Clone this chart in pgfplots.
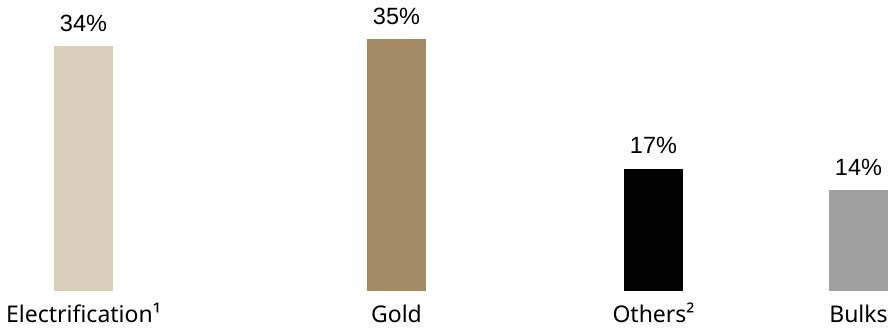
\documentclass[border=0pt]{standalone}
\usepackage{pgfplots}
\pgfplotsset{compat=1.18}
\usepackage{fontspec}
\setmainfont{Noto Sans}
\newfontfamily\valfont{Liberation Sans}
\definecolor{cElec}{RGB}{217,208,188}
\definecolor{cGold}{RGB}{161,138,100}
\definecolor{cOther}{RGB}{0,0,0}
\definecolor{cBulk}{RGB}{160,160,160}
\begin{document}
\begin{tikzpicture}
\begin{axis}[
  at={(0,38bp)}, anchor=south west,
  scale only axis, width=893bp, height=291bp,
  xmin=0, xmax=893, ymin=0, ymax=40.4167,
  axis line style={draw=none},
  ytick=\empty,
  xtick={83.5,396.5,653.5,858.5},
  xticklabels={Electrification¹,Gold,Others²,Bulks},
  major tick length=0pt,
  xticklabel style={anchor=base, yshift=-32bp, font=\fontsize{23bp}{27bp}\selectfont, text=black},
  ybar, bar width=59bp, bar shift=0pt,
  nodes near coords={\pgfmathprintnumber[assume math mode=true]{\pgfplotspointmeta}\%},
  every node near coord/.append style={anchor=south, inner sep=0pt, yshift=14.5bp, font=\valfont\fontsize{23.5bp}{27bp}\selectfont, text=black},
  clip=false,
]
\addplot[fill=cElec, draw=none] coordinates {(83.5,34)};
\addplot[fill=cGold, draw=none] coordinates {(396.5,35)};
\addplot[fill=cOther, draw=none] coordinates {(653.5,17)};
\addplot[fill=cBulk, draw=none] coordinates {(858.5,14)};
\end{axis}
\pgfresetboundingbox
\path[use as bounding box] (0,0) rectangle (893bp,329bp);
\end{tikzpicture}
\end{document}
